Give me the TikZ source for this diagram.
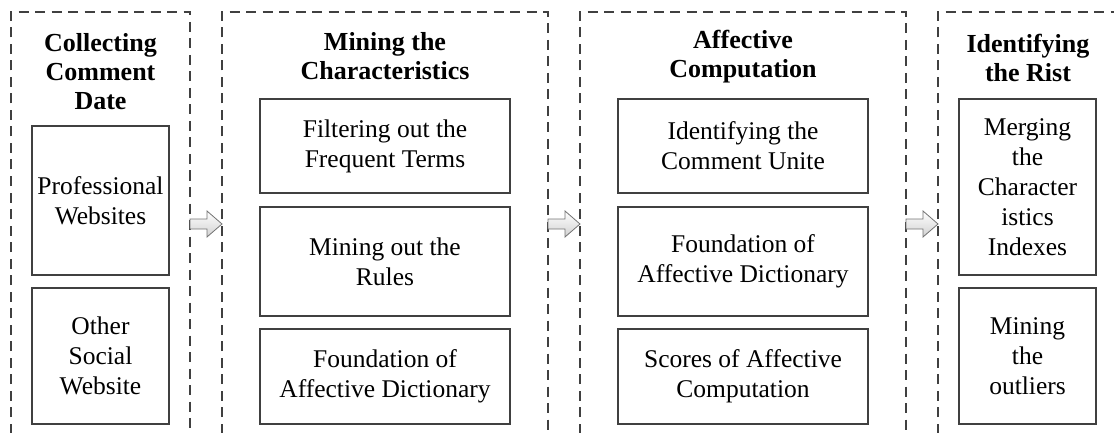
\documentclass[tikz,border=0pt]{standalone}
\usepackage{fontspec}
\setmainfont{Liberation Serif}
\usetikzlibrary{calc}

\tikzset{
  panel/.style={draw=black!75, line width=1.3pt, dash pattern=on 10pt off 6.5pt},
  itembox/.style={draw=black!75, line width=1.2pt, align=center, inner sep=1pt,
    font=\fontsize{25.5}{30}\selectfont},
  title/.style={align=center, inner sep=0pt, font=\fontsize{26}{29}\selectfont\bfseries},
  flow/.style={draw=black!55, line width=0.8pt, top color=white, bottom color=black!18},
}

% hollow block arrow between two named points on the panel edges
\newcommand\flowarrow[2]{%
  \draw[flow] ($(#1)+(0,-5)$) -- ($(#2)+(-15,-5)$) -- ($(#2)+(-15,-13)$) -- (#2)
    -- ($(#2)+(-15,13)$) -- ($(#2)+(-15,5)$) -- ($(#1)+(0,5)$) -- cycle;}

\begin{document}
\begin{tikzpicture}[x=1pt,y=-1pt]
\useasboundingbox (0,0) rectangle (1114,433);
\clip (0,0) rectangle (1114,433);

% dashed stage panels (open at the bottom)
\draw[panel] (11,450) -- (11,12) -- (190,12) -- (190,450);
\draw[panel] (222,450) -- (222,12) -- (548,12) -- (548,450);
\draw[panel] (580,450) -- (580,12) -- (906,12) -- (906,450);
\draw[panel] (938,450) -- (938,12) -- (1130,12);

% stage titles
\node[title] (t1) at (100.5,72) {Collecting\\Comment\\Date};
\node[title] (t2) at (385,56.5) {Mining the\\Characteristics};
\node[title] (t3) at (743,56.5) {Affective\\Computation};
\node[title] (t4) at (1028,58) {Identifying\\the Rist};

% stage 1
\node[itembox, minimum width=137pt, minimum height=149pt] (s1a) at (100.5,200.5) {Professional\\Websites};
\node[itembox, minimum width=137pt, minimum height=136pt] (s1b) at (100.5,356) {Other\\Social\\Website};

% stage 2
\node[itembox, minimum width=250pt, minimum height=94pt] (s2a) at (385,146) {Filtering out the\\Frequent Terms};
\node[itembox, minimum width=250pt, minimum height=109pt] (s2b) at (385,261.5) {Mining out the\\Rules};
\node[itembox, minimum width=250pt, minimum height=95pt] (s2c) at (385,376.5) {Foundation of\\Affective Dictionary};

% stage 3
\node[itembox, minimum width=250pt, minimum height=94pt] (s3a) at (743,146) {Identifying the\\Comment Unite};
\node[itembox, minimum width=250pt, minimum height=109pt] (s3b) at (743,261.5) {Foundation of\\Affective Dictionary};
\node[itembox, minimum width=250pt, minimum height=95pt] (s3c) at (743,376.5) {Scores of Affective\\Computation};

% stage 4
\node[itembox, minimum width=137pt, minimum height=176pt] (s4a) at (1027.5,187) {Merging\\the\\Character\\istics\\Indexes};
\node[itembox, minimum width=137pt, minimum height=136pt] (s4b) at (1027.5,356) {Mining\\the\\outliers};

% arrow end points on the panel edges
\coordinate (o1) at (190,224);
\coordinate (i2) at (222,224);
\coordinate (o2) at (548,224);
\coordinate (i3) at (580,224);
\coordinate (o3) at (906,224);
\coordinate (i4) at (938,224);

\flowarrow{o1}{i2}
\flowarrow{o2}{i3}
\flowarrow{o3}{i4}
\end{tikzpicture}
\end{document}
